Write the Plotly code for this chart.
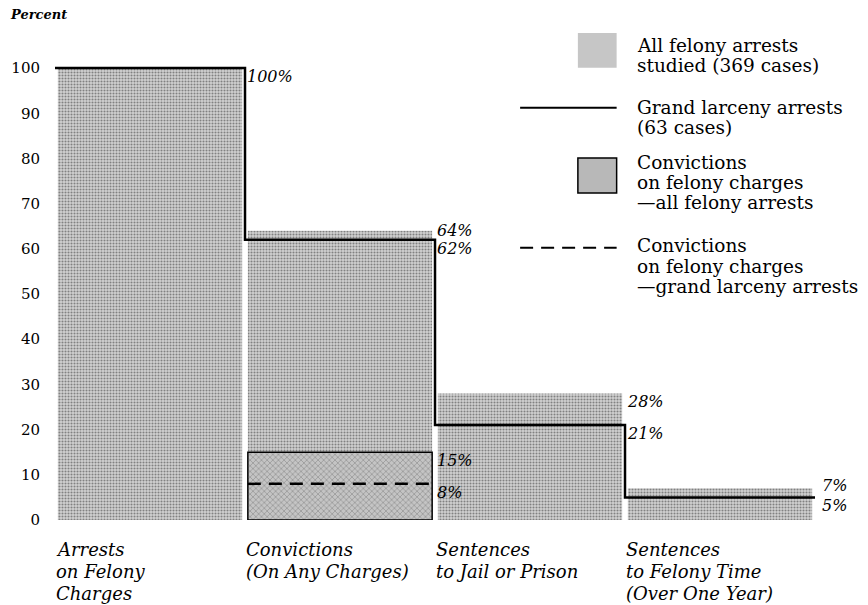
import plotly.graph_objects as go

# stages of the process, one bar each
stages = [
    ["Arrests", "on Felony", "Charges"],
    ["Convictions", "(On Any Charges)"],
    ["Sentences", "to Jail or Prison"],
    ["Sentences", "to Felony Time", "(Over One Year)"],
]
all_felony = [100, 64, 28, 7]        # all felony arrests studied (369 cases)
grand_larceny = [100, 62, 21, 5]     # grand larceny arrests (63 cases)
felony_conv_all = 15                 # convictions on felony charges, all felony arrests
felony_conv_larceny = 8              # convictions on felony charges, grand larceny arrests
yticks = [0, 10, 20, 30, 40, 50, 60, 70, 80, 90, 100]

legend_items = [
    ["All felony arrests", "studied (369 cases)"],
    ["Grand larceny arrests", "(63 cases)"],
    ["Convictions", "on felony charges", "\u2014all felony arrests"],
    ["Convictions", "on felony charges", "\u2014grand larceny arrests"],
]

SERIF = "DejaVu Serif"
W = 0.97
DASH = "13px,8px"
idx = list(range(len(stages)))
edges = [i - 0.5 for i in idx] + [len(stages) - 0.5]

stipple = dict(shape=".", fgcolor="#303030", bgcolor="#d2d2d2", size=3, solidity=0.4)
stipple_dark = dict(shape="x", fgcolor="#5a5a5a", bgcolor="#c4c4c4", size=4, solidity=0.3)

fig = go.Figure()

fig.add_trace(go.Bar(
    x=idx, y=all_felony, width=W,
    marker=dict(color="#cccccc", pattern=stipple, line_width=0),
))

# felony convictions box inside the convictions bar
fig.add_trace(go.Bar(
    x=[1], y=[felony_conv_all], width=W,
    marker=dict(color="#c0c0c0", pattern=stipple_dark, line=dict(color="black", width=1.5)),
))

# grand larceny step line
fig.add_trace(go.Scatter(
    x=edges, y=grand_larceny + [grand_larceny[-1]],
    mode="lines", line=dict(color="black", width=2.5, shape="hv"),
))

# grand larceny felony convictions
fig.add_trace(go.Scatter(
    x=[1 - W / 2, 1 + W / 2], y=[felony_conv_larceny] * 2,
    mode="lines", line=dict(color="black", width=2.5, dash=DASH),
))

annotations = []

def pct(x, y, val, anchor="top", xshift=0, yshift=3):
    annotations.append(dict(
        x=x, y=y, xref="x", yref="y", text=f"{val}%", showarrow=False,
        xanchor="left", yanchor=anchor, xshift=xshift, yshift=yshift,
        font=dict(family=SERIF, size=16, color="black", style="italic"),
    ))

pct(0.5, grand_larceny[0], grand_larceny[0])
pct(1.5, all_felony[1], all_felony[1], anchor="middle", yshift=0)
pct(1.5, grand_larceny[1], grand_larceny[1])
pct(2.5, all_felony[2], all_felony[2])
pct(2.5, grand_larceny[2], grand_larceny[2])
pct(1.5, felony_conv_all, felony_conv_all)
pct(1.5, felony_conv_larceny, felony_conv_larceny)
pct(3.5, all_felony[3], all_felony[3], anchor="middle", xshift=5, yshift=3)
pct(3.5, grand_larceny[3], grand_larceny[3], xshift=5)

# stage names under the bars, one annotation per line
for i, lines in enumerate(stages):
    for k, txt in enumerate(lines):
        annotations.append(dict(
            x=i - W / 2, y=0, xref="x", yref="paper", text=txt, showarrow=False,
            xanchor="left", yanchor="middle", xshift=-4, yshift=-29 - 22 * k,
            font=dict(family=SERIF, size=18, color="black", style="italic"),
        ))

annotations.append(dict(
    x=-0.058, y=1.075, xref="paper", yref="paper", text="<b>Percent</b>", showarrow=False,
    xanchor="left", yanchor="middle", xshift=-3,
    font=dict(family=SERIF, size=13, color="black", style="italic"),
))

# legend, drawn by hand: one annotation per text line
legend_tops = [1.0106, 0.8787, 0.7617, 0.583]
LINE = 0.0436
for lines, top in zip(legend_items, legend_tops):
    for k, txt in enumerate(lines):
        annotations.append(dict(
            x=0.763, y=top - k * LINE, xref="paper", yref="paper", text=txt, showarrow=False,
            xanchor="left", yanchor="middle", align="left",
            font=dict(family=SERIF, size=18.5, color="black"),
        ))

shapes = [
    dict(type="rect", xref="paper", yref="paper", x0=0.688, x1=0.739, y0=0.962, y1=1.036,
         fillcolor="#c6c6c6", line_width=0),
    dict(type="line", xref="paper", yref="paper", x0=0.612, x1=0.739, y0=0.877, y1=0.877,
         line=dict(color="black", width=2)),
    dict(type="rect", xref="paper", yref="paper", x0=0.688, x1=0.739, y0=0.696, y1=0.770,
         fillcolor="#b8b8b8", line=dict(color="black", width=1.5)),
    dict(type="line", xref="paper", yref="paper", x0=0.612, x1=0.739, y0=0.579, y1=0.579,
         line=dict(color="black", width=2, dash=DASH)),
]

fig.update_layout(
    width=868, height=597,
    margin=dict(l=47, r=61, t=42, b=85),
    barmode="overlay",
    showlegend=False,
    plot_bgcolor="white", paper_bgcolor="white",
    annotations=annotations,
    shapes=shapes,
    xaxis=dict(range=[-0.5, 3.5], visible=False, fixedrange=True),
    yaxis=dict(
        range=[0, 104], tickvals=yticks, showgrid=False, zeroline=False,
        showline=False, ticks="", ticklabelstandoff=14, automargin=False,
        tickfont=dict(family=SERIF, size=15, color="black"),
    ),
)

fig.write_html("out.html")
